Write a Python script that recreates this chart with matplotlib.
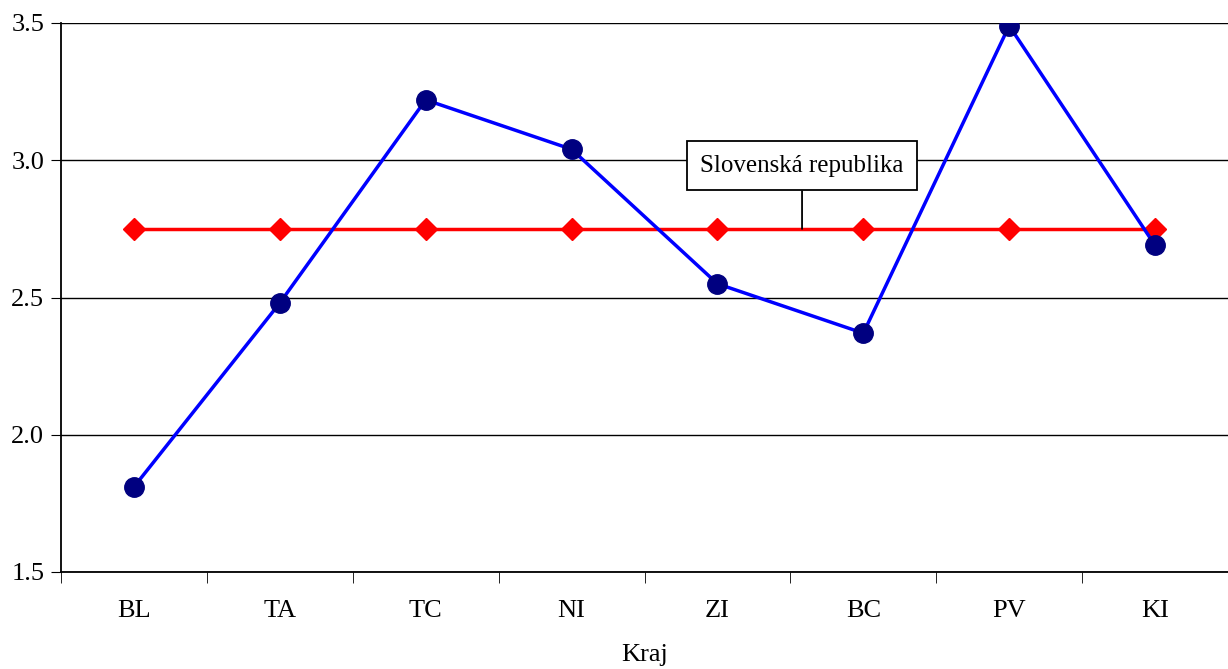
import matplotlib
matplotlib.use("Agg")
import matplotlib.pyplot as plt

plt.rcParams["font.family"] = ["Liberation Serif", "DejaVu Serif"]

# Data
regions = ["BL", "TA", "TC", "NI", "ZI", "BC", "PV", "KI"]
region_values = [1.81, 2.48, 3.22, 3.04, 2.55, 2.37, 3.49, 2.69]
sr_value = 2.75
sr_label = "Slovenská republika"
y_ticks = [1.5, 2.0, 2.5, 3.0, 3.5]
x_label = "Kraj"

fig = plt.figure(figsize=(12.28, 6.69), dpi=100)
ax = fig.add_axes([61 / 1228, 1 - 572 / 669, (1228 - 61) / 1228, (572 - 23) / 669])

x = list(range(len(regions)))
sr_values = [sr_value] * len(regions)

ax.plot(x, sr_values, color="#ff0000", linewidth=2.5, marker="D", markersize=11,
        markerfacecolor="#ff0000", markeredgecolor="#ff0000", zorder=3)
ax.plot(x, region_values, color="#0000ff", linewidth=2.5, marker="o", markersize=14,
        markerfacecolor="#000080", markeredgecolor="#000080", zorder=4)

ax.set_xlim(-0.5, len(regions) - 0.5)
ax.set_ylim(1.5, 3.5)
ax.set_yticks(y_ticks)
ax.set_yticklabels([f"{v:.1f}" for v in y_ticks])
ax.yaxis.grid(True, color="black", linewidth=1)
ax.set_axisbelow(True)

ax.set_xticks(x)
ax.set_xticklabels(regions)
ax.set_xticks([i + 0.5 for i in range(-1, len(regions) - 1)], minor=True)
ax.tick_params(axis="x", which="major", length=0, pad=20, labelsize=19)
ax.tick_params(axis="x", which="minor", length=8, direction="out", color="black")
ax.tick_params(axis="y", length=7, direction="out", labelsize=19, pad=5)

for side in ["top", "right"]:
    ax.spines[side].set_visible(False)
ax.spines["left"].set_linewidth(1.3)
ax.spines["bottom"].set_linewidth(1.3)

ax.set_xlabel(x_label, fontsize=19, labelpad=16)

# Label for the national average line with leader line
ax.annotate(sr_label, xy=(4.58, sr_value), xytext=(4.58, 2.98),
            ha="center", va="center", fontsize=18,
            bbox=dict(boxstyle="square,pad=0.55", facecolor="white",
                      edgecolor="black", linewidth=1.3),
            arrowprops=dict(arrowstyle="-", color="black", linewidth=1.3,
                            shrinkA=0, shrinkB=0),
            zorder=5)

fig.savefig("out.png", dpi=100)
